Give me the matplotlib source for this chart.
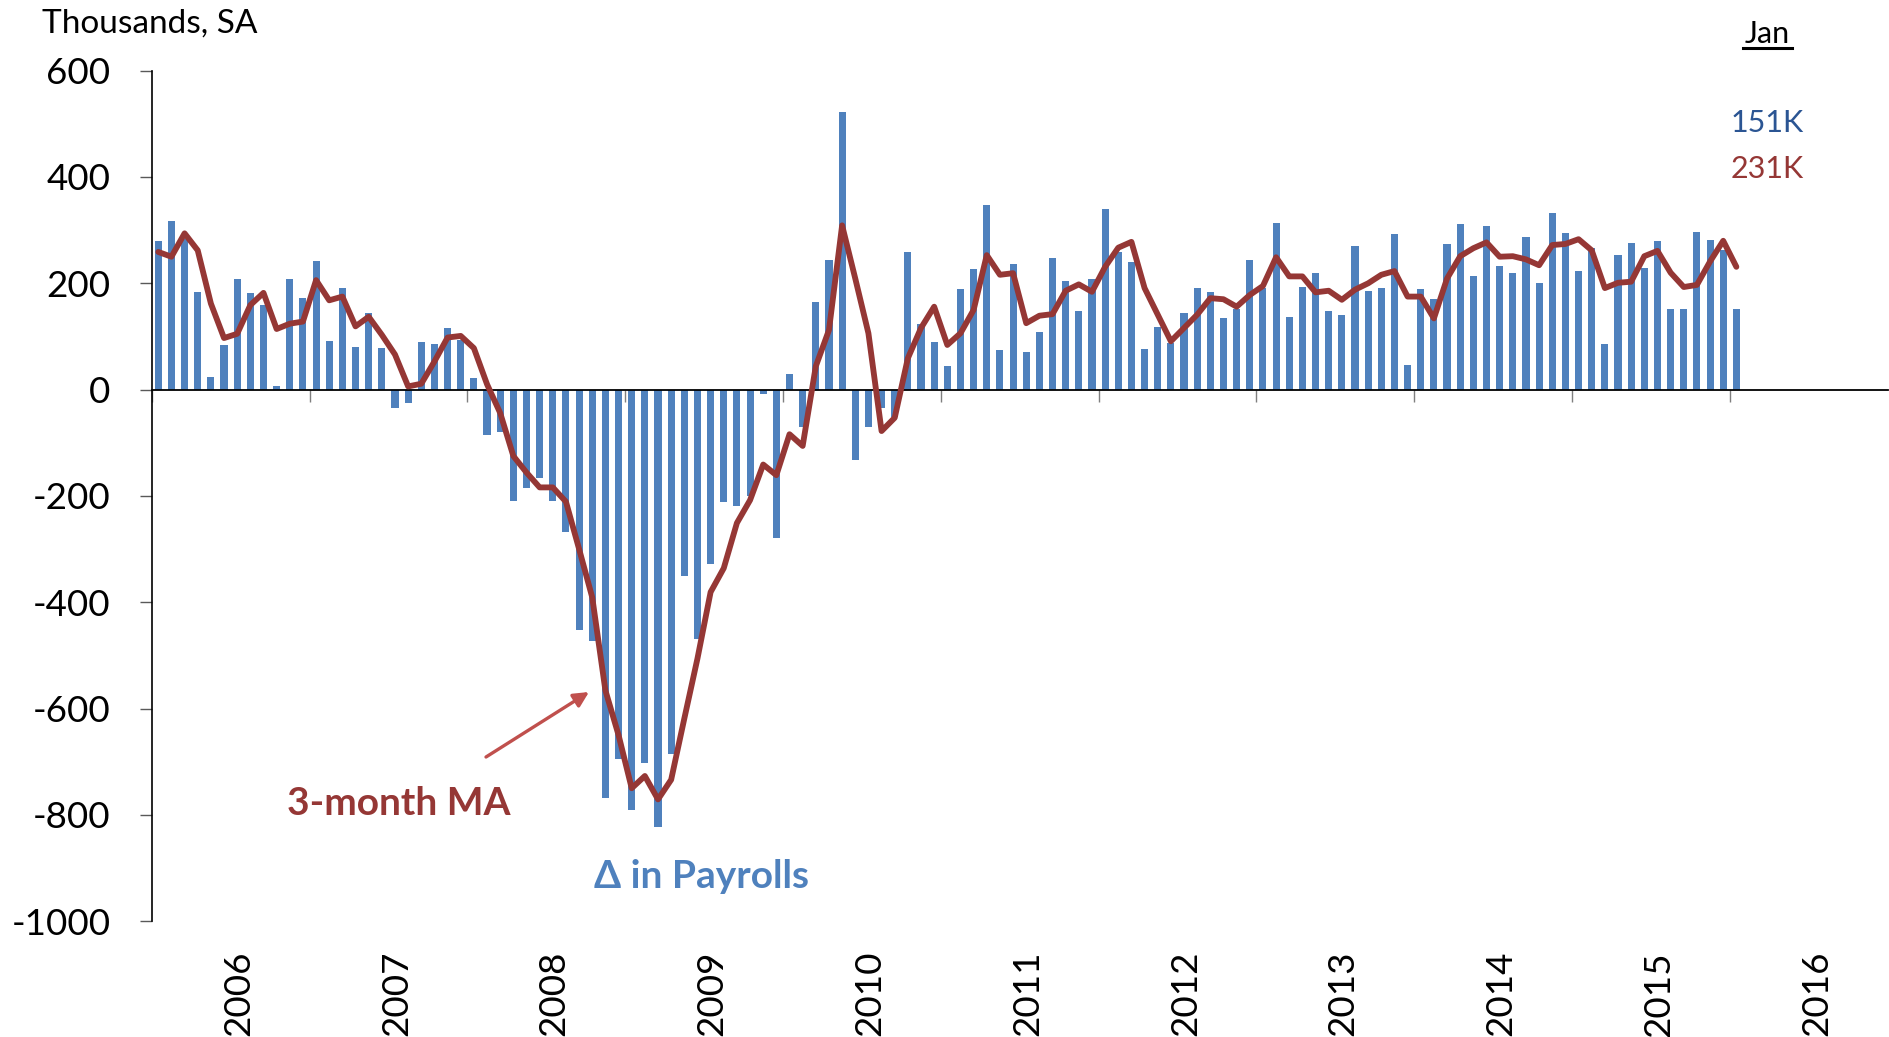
import matplotlib
matplotlib.use("Agg")
import matplotlib.pyplot as plt
from matplotlib.lines import Line2D
from matplotlib.transforms import blended_transform_factory
import numpy as np

plt.rcParams['font.family'] = ['Lato', 'DejaVu Sans']
plt.rcParams['axes.unicode_minus'] = False

# ---------------- data (thousands, SA; Jan 2006 .. Jan 2016) ----------------
payrolls = [
    279, 317, 284, 184, 24, 84, 208, 182, 159, 6, 209, 172,          # 2006
    242, 92, 191, 81, 144, 79, -34, -25, 89, 86, 116, 94,            # 2007
    21, -86, -79, -210, -186, -166, -210, -267, -452, -473, -769, -695,  # 2008
    -791, -703, -823, -686, -351, -470, -329, -212, -219, -201, -8, -279,  # 2009
    29, -70, 164, 244, 522, -133, -71, -34, -52, 258, 124, 89,       # 2010
    44, 189, 226, 347, 74, 236, 71, 109, 247, 204, 148, 208,         # 2011
    339, 259, 241, 76, 117, 88, 144, 191, 183, 134, 151, 244,        # 2012
    191, 313, 137, 193, 219, 147, 141, 270, 186, 191, 293, 46,       # 2013
    189, 170, 274, 311, 214, 307, 233, 219, 287, 201, 333, 294,      # 2014
    223, 266, 86, 253, 275, 229, 279, 152, 151, 296, 281, 262,       # 2015
    151,                                                             # 2016
]
ma3 = [
    259, 250, 294, 262, 162, 97, 105, 159, 182, 114, 124, 128,
    206, 168, 175, 119, 137, 103, 66, 6, 11, 53, 98, 101,
    78, 10, -44, -125, -156, -184, -184, -211, -300, -391, -566, -650,
    -750, -727, -771, -734, -619, -506, -381, -336, -251, -208, -141, -161,
    -84, -106, 44, 112, 309, 209, 106, -78, -53, 59, 116, 156,
    84, 106, 150, 253, 216, 219, 125, 139, 142, 186, 198, 184,
    231, 267, 278, 191, 141, 91, 116, 141, 172, 170, 156, 178,
    195, 249, 213, 213, 183, 186, 169, 188, 200, 216, 223, 175,
    175, 134, 209, 251, 266, 277, 250, 251, 245, 234, 272, 274,
    283, 262, 191, 201, 203, 251, 261, 220, 193, 197, 241, 280,
    231,
]
years = [2006, 2007, 2008, 2009, 2010, 2011, 2012, 2013, 2014, 2015, 2016]
yticks = [600, 400, 200, 0, -200, -400, -600, -800, -1000]
latest_payroll_label = "151K"
latest_ma_label = "231K"

# ---------------- styling ----------------
BAR_BLUE = "#4F81BD"
LINE_RED = "#953735"
ARROW_RED = "#C0504D"
DARK_BLUE = "#2B5593"

W, H = 1890, 1037
fig = plt.figure(figsize=(W / 100, H / 100), dpi=100)
ax = fig.add_axes([151.7 / W, 1 - 921.1 / H, 1735.9 / W, 850.4 / H])

x = np.arange(len(payrolls))
ax.bar(x, payrolls, width=0.54, color=BAR_BLUE, zorder=1)
ax.plot(np.arange(len(ma3)), ma3, color=LINE_RED, lw=4.2,
        solid_joinstyle='round', solid_capstyle='round', zorder=3)

n_months = 12 * len(years)
ax.set_xlim(-0.5, n_months - 0.5)
ax.set_ylim(-1000, 600)

# spines
for s in ['top', 'right']:
    ax.spines[s].set_visible(False)
ax.spines['left'].set_color('black')
ax.spines['left'].set_linewidth(1.2)
ax.spines['bottom'].set_position(('data', 0))
ax.spines['bottom'].set_color('black')
ax.spines['bottom'].set_linewidth(1.3)
ax.spines['bottom'].set_zorder(2)

# y ticks
ax.set_yticks(yticks)
ax.set_yticklabels([str(v) for v in yticks])
ax.tick_params(axis='y', direction='out', length=8.6, width=1.0,
               color='#595959', pad=21, labelsize=26.5)

# x ticks at year boundaries (on the zero line), labels placed below plot
bounds = [12 * i - 0.5 for i in range(len(years))]
ax.set_xticks(bounds)
ax.set_xticklabels([''] * len(bounds))
ax.tick_params(axis='x', direction='out', length=8.6, width=1.0, color='#7F7F7F')

trans = blended_transform_factory(ax.transData, fig.transFigure)
for i, yr in enumerate(years):
    ax.text(12 * i + 5.5 + 0.6, 1 - 951 / H, str(yr), rotation=90, ha='center', va='top',
            fontsize=26.5, transform=trans, color='black')

# header texts
fig.text(42 / W, 1 - 33 / H, "Thousands, SA", ha='left', va='baseline', fontsize=24)
fig.text(1767 / W, 1 - 43 / H, "Jan", ha='center', va='baseline', fontsize=22)
fig.add_artist(Line2D([1743 / W, 1792 / W], [1 - 47.5 / H] * 2, color='black', lw=2.2))
fig.text(1767 / W, 1 - 132 / H, latest_payroll_label, ha='center', va='baseline',
         fontsize=22, color=DARK_BLUE)
fig.text(1767 / W, 1 - 177.5 / H, latest_ma_label, ha='center', va='baseline',
         fontsize=22, color=LINE_RED)

# annotations
fig.text(399 / W, 1 - 815 / H, "3-month MA", ha='center', va='baseline',
         fontsize=28, fontweight='bold', color=LINE_RED)
fig.text(702 / W, 1 - 888 / H, "Δ in Payrolls", ha='center', va='baseline',
         fontsize=28, fontweight='bold', color=BAR_BLUE)
ax.annotate("", xy=(589 / W, 1 - 692 / H), xytext=(486 / W, 1 - 757 / H),
            xycoords='figure fraction', textcoords='figure fraction',
            arrowprops=dict(arrowstyle='-|>,head_length=0.9,head_width=0.45',
                            color=ARROW_RED, lw=2.4, shrinkA=0, shrinkB=0))

fig.savefig("out.png", dpi=100)
